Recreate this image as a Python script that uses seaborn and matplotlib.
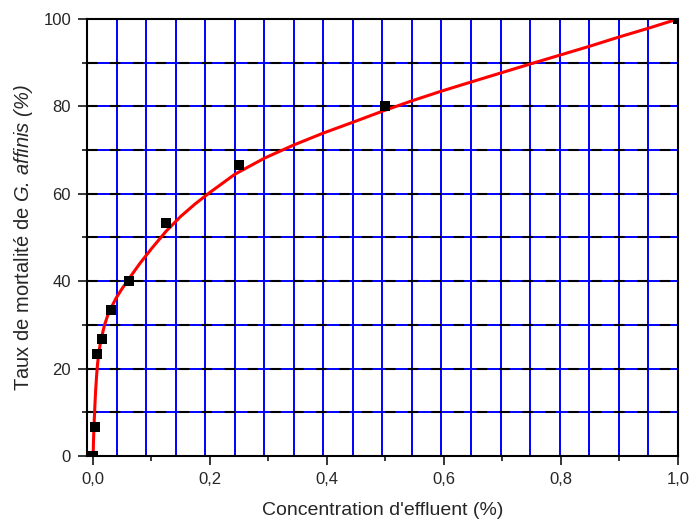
import numpy as np
import pandas as pd
import matplotlib
matplotlib.use('Agg')
import matplotlib.pyplot as plt
import seaborn as sns
from matplotlib.ticker import MultipleLocator, FuncFormatter

# observed points
conc = [0.0, 0.0039, 0.0078, 0.0156, 0.03125, 0.0625, 0.125, 0.25, 0.5, 1.0]
mort = [0.0, 6.67, 23.3, 26.7, 33.3, 40.0, 53.3, 66.7, 80.0, 100.0]

# fitted curve
fit_x = [0.0005, 0.001, 0.002, 0.003, 0.004, 0.005, 0.0065, 0.008, 0.01, 0.0125,
         0.015, 0.02, 0.025, 0.03, 0.04, 0.05, 0.063, 0.08, 0.1, 0.125,
         0.15, 0.175, 0.2, 0.243, 0.294, 0.344, 0.394, 0.445, 0.495, 0.546,
         0.596, 0.647, 0.696, 0.75, 0.8, 0.85, 0.9, 0.95, 1.0]
fit_y = [0.0, 3.0, 7.0, 10.0, 13.0, 15.5, 18.5, 21.0, 23.5, 25.5,
         27.2, 30.0, 32.0, 33.6, 36.2, 38.3, 40.8, 44.0, 47.4, 51.4,
         54.8, 57.7, 60.3, 64.5, 68.2, 71.2, 73.9, 76.4, 78.9, 81.3,
         83.5, 85.6, 87.6, 89.8, 91.8, 93.8, 95.9, 97.9, 100.0]

sns.set_style('ticks')
plt.rcParams['font.family'] = ['Liberation Sans', 'DejaVu Sans']
plt.rcParams['mathtext.fontset'] = 'custom'
plt.rcParams['mathtext.rm'] = 'Liberation Sans:italic'
plt.rcParams['mathtext.it'] = 'Liberation Sans:italic'

pts = pd.DataFrame({'x': conc, 'y': mort})
fit = pd.DataFrame({'x': fit_x, 'y': fit_y})

fig = plt.figure(figsize=(6.91, 5.21), dpi=100)
ax = fig.add_axes([0.1259, 0.1248, 0.855, 0.8387])

xmin, xmax = -0.01, 1.0
ax.set_xlim(xmin, xmax)
ax.set_ylim(0, 100)

# grid: blue verticals evenly spread, horizontals blue with black dashes
for gx in np.linspace(xmin, xmax, 21)[1:-1]:
    ax.axvline(gx, color='#0000ff', lw=1.4, zorder=1)
for gy in range(10, 100, 10):
    ax.axhline(gy, color='#0000ff', lw=1.4, zorder=1)
    ax.axhline(gy, color='black', lw=1.5, dashes=(5, 6), zorder=1.5)

sns.lineplot(data=fit, x='x', y='y', color='red', lw=2.2, ax=ax, zorder=3,
             sort=False)
sns.scatterplot(data=pts, x='x', y='y', marker='s', color='black', s=50,
                edgecolor='black', linewidth=0, ax=ax, zorder=4)

ax.xaxis.set_major_locator(MultipleLocator(0.2))
ax.xaxis.set_minor_locator(MultipleLocator(0.1))
ax.yaxis.set_major_locator(MultipleLocator(20))
ax.yaxis.set_minor_locator(MultipleLocator(10))
ax.xaxis.set_major_formatter(FuncFormatter(lambda v, p: f'{v:.1f}'.replace('.', ',')))
ax.yaxis.set_major_formatter(FuncFormatter(lambda v, p: f'{v:.0f}'))

ax.tick_params(which='major', direction='out', length=6.5, width=1.3,
               labelsize=12, pad=5)
ax.tick_params(which='minor', direction='out', length=3.5, width=1.3)
for s in ax.spines.values():
    s.set_linewidth(1.5)
    s.set_color('black')
    s.set_zorder(5)

ax.set_xlabel("Concentration d'effluent (%)", fontsize=14, labelpad=11)
ax.set_ylabel(r'Taux de mortalité de $G.\,affinis$ $(\%)$', fontsize=14.5, labelpad=6)

fig.savefig('out.png', dpi=100)
